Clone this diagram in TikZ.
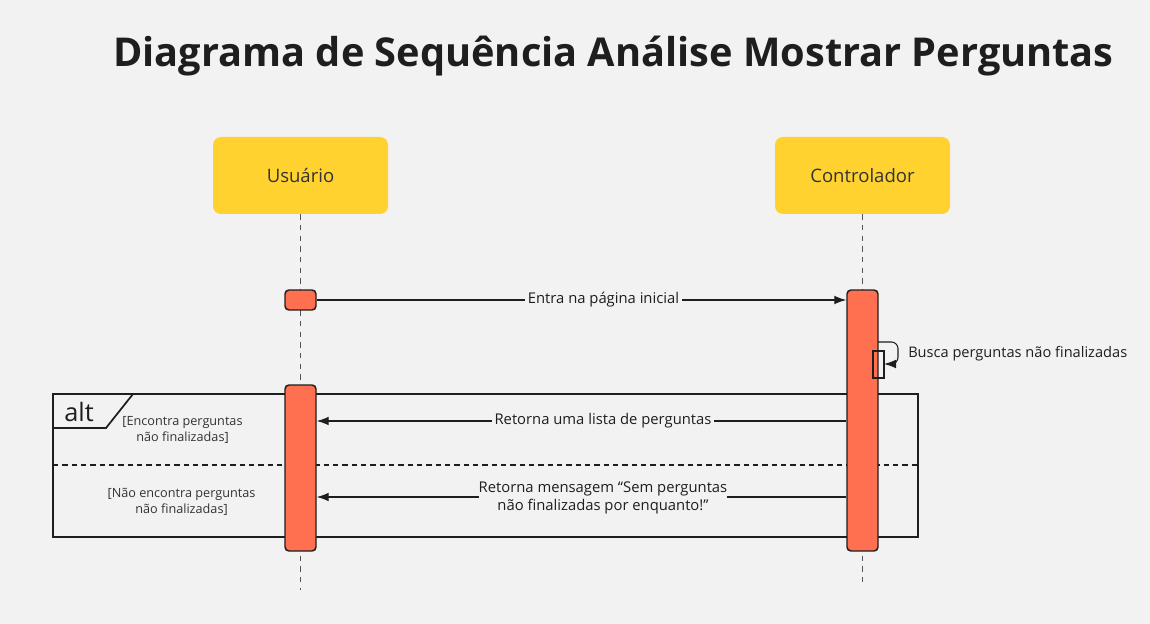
\documentclass[tikz,border=0pt]{standalone}
\usepackage{fontspec}
\setmainfont{Open Sans}
\usetikzlibrary{arrows.meta}
\definecolor{bg}{HTML}{F2F2F2}
\definecolor{actor}{HTML}{FFD22F}
\definecolor{act}{HTML}{FF7050}
\definecolor{ink}{HTML}{1E1E1E}
\definecolor{txt}{HTML}{333333}
\definecolor{lin}{HTML}{555555}
\tikzset{
  actorbox/.style={fill=actor, rounded corners=6pt, minimum width=131.25pt, minimum height=57.75pt, inner sep=0pt, text=txt, font=\fontsize{13.9}{16}\selectfont},
  actbar/.style={fill=act, draw=ink, line width=1.1pt, rounded corners=3pt, inner sep=0pt, minimum width=23.25pt},
  selfbar/.style={draw=ink, line width=0.9pt, inner sep=0pt, minimum width=8.25pt, minimum height=20.25pt},
  lifeline/.style={draw=lin, line width=0.8pt, dash pattern=on 4pt off 4pt},
  msg/.style={draw=ink, line width=0.8pt, -{Latex[length=9pt,width=6.5pt]}},
  msglbl/.style={fill=bg, inner sep=2pt, text=ink, font=\fontsize{11.1}{13.5}\selectfont, align=center},
  guard/.style={text=txt, font=\fontsize{9.5}{12.5}\selectfont, align=center, inner sep=0pt},
  frame/.style={draw=ink, line width=1.3pt},
}
\begin{document}
\begin{tikzpicture}[x=0.75pt,y=-0.75pt]
\fill[bg] (0,0) rectangle (1150,624);
\useasboundingbox (0,0) rectangle (1150,624);

\node[text=ink, font=\fontsize{29.8}{34}\bfseries\selectfont] (title) at (613.5,56) {Diagrama de Sequência Análise Mostrar Perguntas};

\node[actorbox] (usr) at (300.5,175.5) {Usuário};
\node[actorbox] (ctl) at (862.5,175.5) {Controlador};

\coordinate (usrend) at (300.5,590);
\coordinate (ctlend) at (862.5,585);
\draw[lifeline] (usr.south) -- (usrend);
\draw[lifeline] (ctl.south) -- (ctlend);

% alt frame
\node[frame, minimum width=648.75pt, minimum height=107.25pt, inner sep=0pt] (alt) at (485.5,465.5) {};
\draw[frame] (53,428) -- (106,428) -- (133,394);
\node[text=ink, font=\fontsize{19}{22}\selectfont, anchor=west, inner sep=0pt] (altlbl) at (64,412) {alt};
\coordinate (sepL) at (53,465);
\coordinate (sepR) at (918,465);
\draw[draw=ink, line width=0.8pt, dash pattern=on 4pt off 3pt] (sepL) -- (sepR);
\node[guard] (g1) at (182.5,430) {[Encontra perguntas\\não finalizadas]};
\node[guard] (g2) at (181.5,502) {[Não encontra perguntas\\não finalizadas]};

% activations
\node[actbar, minimum height=15pt] (ua1) at (300.5,300) {};
\node[actbar, minimum height=195.75pt] (ca) at (862.5,420.5) {};
\node[actbar, minimum height=124.5pt] (ua2) at (300.5,468) {};
\node[selfbar] (sa) at (878.5,364.5) {};

% message 1
\draw[msg] (ua1.east) -- (ua1.east -| ca.west);
\node[msglbl] (l1) at (603.5,300) {Entra na página inicial};

% self call
\coordinate (s1) at (878,342);
\coordinate (s2) at (898,364);
\coordinate (s3) at (884,364);
\draw[msg, rounded corners=5pt] (s1) -| (s2) -- (s3);
\node[text=ink, font=\fontsize{10.95}{13.5}\selectfont, anchor=west, inner sep=0pt] (l2) at (908,354) {Busca perguntas não finalizadas};

% message 2
\coordinate (m2) at (0,421);
\draw[msg] (m2 -| ca.west) -- (m2 -| ua2.east);
\node[msglbl] (l3) at (603,421) {Retorna uma lista de perguntas};

% message 3
\coordinate (m3) at (0,497);
\draw[msg] (m3 -| ca.west) -- (m3 -| ua2.east);
\node[msglbl, inner sep=0pt] (l4) at (603,498) {Retorna mensagem “Sem perguntas\\não finalizadas por enquanto!”};
\end{tikzpicture}
\end{document}
